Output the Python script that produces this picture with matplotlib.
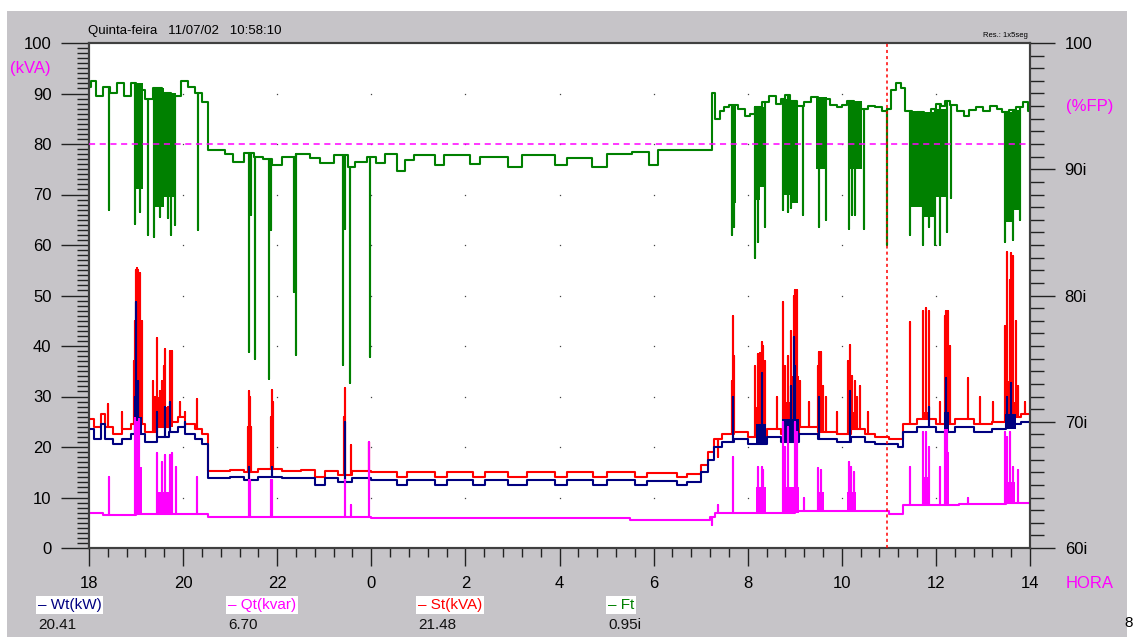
import matplotlib
matplotlib.use("Agg")
import matplotlib.pyplot as plt
import numpy as np
from matplotlib.patches import Rectangle

plt.rcParams['font.family'] = ['Liberation Sans', 'DejaVu Sans']

# time axis: hours elapsed since 18:00 (0 .. 20)
hour_ticks = [0, 2, 4, 6, 8, 10, 12, 14, 16, 18, 20]
hour_labels = ['18', '20', '22', '0', '2', '4', '6', '8', '10', '12', '14']
cursor_t = 16.97  # 10:58:10

# St (kVA) baseline steps
st_t = [0.0, 0.1, 0.25, 0.35, 0.5, 0.7, 0.9, 1.2, 1.45, 1.7, 1.9, 2.05, 2.25, 2.4, 2.53,
        3.0, 3.3, 3.6, 4.1, 4.5, 4.8, 5.02, 5.3, 5.6, 6.0, 6.55, 6.76, 7.35, 7.61, 8.16,
        8.42, 8.91, 9.31, 9.9, 10.16, 10.71, 11.01, 11.6, 11.86, 12.5, 12.71, 13.0, 13.15,
        13.28, 13.45, 13.7, 14.0, 14.4, 14.7, 15.1, 15.5, 15.9, 16.2, 16.5, 16.7, 17.0,
        17.2, 17.3, 17.6, 18.0, 18.4, 18.8, 19.2, 19.5, 19.8]
st_v = [25.5, 24, 26.5, 24, 22.5, 23.5, 24.5, 23, 24, 25, 26, 24.5, 23.5, 22.5, 15.2,
        15.5, 15.0, 15.6, 15.3, 15.5, 14.0, 15.2, 14.5, 15.3, 15.0, 14.0, 15.0, 14.0, 15.0, 14.0,
        15.0, 14.0, 15.0, 14.0, 15.0, 14.0, 15.0, 14.0, 14.8, 14.0, 14.6, 16.5, 19.0,
        21.5, 22.5, 23.0, 22.0, 23.5, 22.5, 24.0, 23.0, 22.5, 23.5, 22.5, 22.0, 21.5,
        21.5, 24.5, 25.5, 24.5, 25.5, 24.5, 25.0, 26.0, 26.5]
st_spk = [(0.40, 28.5), (0.70, 27), (0.96, 37), (0.98, 45), (1.00, 55), (1.02, 55.5), (1.04, 55),
          (1.06, 54), (1.08, 54.5), (1.13, 45), (1.36, 33), (1.40, 30), (1.45, 41.5), (1.50, 31),
          (1.55, 33), (1.60, 36), (1.62, 39.5), (1.68, 28), (1.72, 39), (1.74, 38.5), (1.76, 39),
          (1.93, 29), (2.04, 27), (2.30, 29.5), (3.38, 24), (3.40, 31), (3.42, 30), (3.44, 24),
          (3.87, 26), (3.89, 31.3), (3.91, 29), (5.42, 26), (5.44, 31.7), (5.57, 20.4), (5.95, 21),
          (13.37, 18), (13.67, 33), (13.69, 46), (13.71, 38), (14.16, 36), (14.22, 38.5),
          (14.26, 38.6), (14.30, 40.8), (14.33, 40), (14.37, 37), (14.63, 30), (14.75, 48.7),
          (14.80, 36), (14.86, 38), (14.92, 43), (14.98, 50), (15.01, 51), (15.05, 51), (15.11, 33),
          (15.30, 29), (15.49, 36), (15.52, 38.8), (15.56, 38.8), (15.60, 32), (15.66, 30),
          (15.90, 27), (16.13, 37), (16.17, 40.2), (16.21, 34), (16.28, 33), (16.32, 30),
          (16.39, 32), (16.55, 27), (17.45, 44.8), (17.73, 47), (17.79, 47.5), (17.80, 36),
          (17.85, 47), (18.09, 29), (18.19, 46), (18.22, 47), (18.26, 47), (18.30, 40),
          (18.68, 33.7), (18.94, 30), (19.22, 29), (19.47, 44), (19.51, 58.6), (19.57, 53),
          (19.60, 58.5), (19.64, 57.8), (19.70, 45), (19.74, 32), (19.90, 29)]
st_burst = [(0.96, 1.13, 40), (1.45, 1.62, 30), (1.62, 1.78, 28), (13.66, 13.72, 33),
            (14.18, 14.28, 28), (14.28, 14.38, 31), (14.73, 14.90, 29), (14.90, 15.10, 34),
            (15.48, 15.62, 28), (16.12, 16.22, 30), (16.22, 16.30, 27), (17.72, 17.86, 27),
            (18.17, 18.28, 38), (19.47, 19.58, 33), (19.58, 19.70, 29)]

# Wt (kW)
wt_t = st_t
wt_v = [23.5, 21.5, 24.5, 21.5, 20.5, 21.5, 22.5, 21, 22, 23, 24, 22.5, 21.5, 20.5, 13.8,
        14.0, 13.5, 14.0, 13.8, 13.9, 12.5, 13.8, 13.0, 13.8, 13.5, 12.5, 13.5, 12.5, 13.5, 12.5,
        13.5, 12.5, 13.5, 12.5, 13.5, 12.5, 13.5, 12.5, 13.3, 12.5, 13.0, 15.0, 17.5,
        20.0, 21.0, 21.5, 20.5, 22.0, 21.0, 22.5, 21.5, 21.0, 22.0, 21.0, 20.5, 20.5,
        20.0, 23.0, 24.0, 23.0, 24.0, 23.0, 23.5, 24.5, 25.0]
wt_spk = [(0.98, 30), (1.00, 48.7), (1.04, 33), (1.45, 27), (1.62, 28), (1.72, 29), (2.04, 25),
          (3.40, 16), (3.89, 16), (5.44, 25), (13.69, 30), (14.30, 34.6), (14.92, 32), (14.98, 41.8),
          (15.01, 36), (15.52, 30), (16.17, 31), (17.85, 28), (18.22, 33.7), (19.51, 30), (19.60, 32.7)]
wt_burst = [(0.96, 1.13, 26), (14.18, 14.38, 24.5), (14.73, 15.10, 25.5), (18.17, 18.28, 27),
            (19.47, 19.70, 26.5)]

# Qt (kvar)
qt_t = [0.0, 0.3, 1.0, 2.53, 6.0, 9.0, 11.5, 13.2, 13.3, 15.0, 17.0, 17.3, 18.5, 19.5]
qt_v = [7.0, 6.5, 6.8, 6.2, 6.0, 6.0, 5.6, 6.2, 7.0, 7.3, 6.8, 8.5, 8.8, 9.0]
qt_spk = [(0.43, 14), (0.98, 25.7), (1.02, 25), (1.06, 25.5), (1.45, 18.8), (1.55, 17), (1.62, 18.5),
          (1.72, 18.5), (1.76, 18.8), (1.85, 16), (2.30, 14), (3.40, 13.5), (3.42, 13.5),
          (3.87, 13.5), (3.89, 13.5), (5.44, 13.5), (5.57, 8.5), (5.95, 21), (13.24, 4.5),
          (13.37, 8.5), (13.69, 18), (14.22, 16), (14.30, 16), (14.33, 15.5), (14.75, 25),
          (14.80, 20), (14.86, 24), (15.01, 25), (15.05, 23), (15.20, 10), (15.49, 15.8),
          (15.56, 15.5), (16.15, 17), (16.20, 16), (16.26, 15), (17.45, 16), (17.73, 23),
          (17.79, 23), (17.85, 20), (18.09, 16), (18.19, 23.4), (18.24, 23.4), (18.68, 10),
          (19.47, 23), (19.51, 22), (19.57, 23), (19.64, 16), (19.74, 15.5)]
qt_burst = [(0.96, 1.13, 16), (1.45, 1.78, 11), (14.18, 14.38, 12), (14.73, 15.10, 12),
            (15.48, 15.62, 11), (16.12, 16.30, 11), (17.73, 17.87, 14), (18.17, 18.28, 19),
            (19.47, 19.68, 13)]

# Ft (%FP, right axis)
ft_t = [0.0, 0.05, 0.15, 0.3, 0.45, 0.6, 0.75, 0.9, 1.0, 1.2, 1.35, 1.55, 1.75, 1.95, 2.1, 2.25,
        2.4, 2.53, 2.9, 3.05, 3.3, 3.5, 3.7, 3.9, 4.1, 4.4, 4.7, 4.9, 5.2, 5.5, 5.65, 5.9, 6.1,
        6.3, 6.55, 6.72, 6.9, 7.35, 7.55, 8.1, 8.3, 8.9, 9.2, 9.9, 10.15, 10.7, 11.0, 11.55,
        11.9, 12.1, 12.95, 13.24, 13.3, 13.42, 13.5, 13.6, 13.8, 13.95, 14.05, 14.15, 14.3,
        14.45, 14.6, 14.7, 14.8, 14.9, 15.05, 15.2, 15.35, 15.5, 15.6, 15.75, 15.9, 16.0, 16.1,
        16.25, 16.4, 16.55, 16.7, 16.85, 16.96, 17.05, 17.15, 17.25, 17.35, 17.5, 17.6, 17.75,
        17.9, 18.0, 18.1, 18.2, 18.3, 18.45, 18.6, 18.7, 18.85, 19.0, 19.15, 19.3, 19.4, 19.55,
        19.7, 19.85, 19.95]
ft_v = [96.5, 97.0, 95.8, 96.5, 96.0, 96.8, 95.8, 96.8, 96.3, 95.6, 96.4, 96.0, 95.8, 97.0, 96.5,
        96.0, 95.3, 91.5, 91.2, 90.6, 91.3, 91.0, 90.8, 90.3, 91.0, 91.2, 90.9, 90.5, 91.1, 90.2,
        90.6, 91.0, 90.5, 91.2, 89.9, 90.7, 91.1, 90.3, 91.1, 90.4, 91.0, 90.2, 91.1, 90.3, 90.9,
        90.2, 91.2, 91.4, 90.3, 91.5, 91.5, 96.0, 94.0, 94.6, 94.9, 95.1, 94.8, 94.2, 94.4,
        94.9, 95.3, 95.8, 95.2, 95.6, 95.9, 95.4, 95.0, 95.3, 95.7, 95.3, 95.6, 95.1, 94.9,
        95.1, 95.4, 95.2, 94.8, 95.0, 94.9, 94.6, 94.8, 96.3, 96.8, 96.4, 94.6, 94.2, 94.5,
        94.3, 94.8, 95.2, 95.0, 95.4, 95.1, 94.6, 94.2, 94.7, 94.9, 94.6, 95.0, 94.8, 94.5,
        94.7, 94.9, 95.3, 94.6]
ft_spk = [(0.43, 86.8), (0.98, 85.7), (1.08, 86.6), (1.25, 84.8), (1.38, 84.6), (1.51, 86.2),
          (1.68, 86.1), (1.74, 84.8), (1.83, 85.6), (2.32, 85.2), (3.40, 75.5), (3.44, 86.4),
          (3.53, 75.0), (3.83, 73.4), (3.87, 85.2), (4.36, 80.3), (4.40, 75.3), (5.40, 74.5),
          (5.44, 85.3), (5.55, 73.1), (5.97, 75.1), (13.67, 84.8), (13.71, 85.4), (14.16, 83.0),
          (14.22, 84.2), (14.37, 85.4), (14.75, 86.8), (14.86, 86.6), (14.92, 86.9), (15.18, 86.4),
          (15.52, 85.4), (15.66, 86.0), (16.15, 85.3), (16.22, 86.4), (16.28, 86.4), (16.47, 85.3),
          (16.96, 84.0), (17.45, 84.8), (17.73, 84.0), (17.85, 85.4), (17.98, 84.0), (18.09, 84.0),
          (18.24, 85.0), (18.32, 87.7), (19.47, 84.2), (19.64, 84.4), (19.79, 86.0)]
ft_burst = [(0.96, 1.15, 88.4), (1.36, 1.60, 87.0), (1.60, 1.85, 87.8), (3.38, 3.46, 86.4),
            (3.85, 3.90, 85.2), (5.42, 5.47, 85.3), (13.65, 13.75, 87.3), (14.16, 14.26, 87.6),
            (14.26, 14.39, 88.6), (14.73, 14.90, 88.0), (14.90, 15.07, 87.3), (15.45, 15.69, 90.0),
            (16.13, 16.43, 90.0), (17.45, 17.70, 87.0), (17.70, 17.95, 86.2), (17.95, 18.24, 87.8),
            (19.47, 19.62, 85.8), (19.62, 19.79, 86.8)]

# legend readings at cursor
leg_names = ['Wt(kW)', 'Qt(kvar)', 'St(kVA)', 'Ft']
leg_values = ['20.41', '6.70', '21.48', '0.95i']

RED, NAVY, MAG, GREEN = '#FF0000', '#000080', '#FF00FF', '#008000'
BG = '#C6C4C8'


def trace(bt, bv, spikes):
    ev = sorted([(t, 0, v) for t, v in zip(bt, bv)] + [(t, 1, p) for t, p in spikes])
    xs, ys = [0.0], [bv[0]]
    cur = bv[0]
    for t, kind, v in ev:
        if kind == 0:
            xs += [t, t]
            ys += [cur, v]
            cur = v
        else:
            xs += [t, t, t]
            ys += [cur, v, cur]
    xs.append(20.0)
    ys.append(cur)
    return xs, ys


def base_at(bt, bv, t):
    i = np.searchsorted(bt, t, side='right') - 1
    return bv[max(i, 0)]


def draw(a, bt, bv, spikes, bursts, color, z):
    for t0, t1, lev in bursts:
        b = base_at(bt, bv, t0)
        a.fill_between([t0, t1], [b, b], [lev, lev], color=color, lw=0, zorder=z)
    xs, ys = trace(bt, bv, spikes)
    a.plot(xs, ys, color=color, lw=1.5, zorder=z + 0.1)


fig = plt.figure(figsize=(11.33, 6.37), dpi=100, facecolor='white')
fig.patches.append(Rectangle((7 / 1133, 0), 1120 / 1133, 626 / 637, transform=fig.transFigure,
                             facecolor=BG, edgecolor='none', zorder=-10))

L, R, T, B = 89, 1030, 43, 548
ax = fig.add_axes([L / 1133, 1 - B / 637, (R - L) / 1133, (B - T) / 637])
ax.set_facecolor('white')
ax.set_xlim(0, 20)
ax.set_ylim(0, 100)

draw(ax, st_t, st_v, st_spk, st_burst, RED, 2)
draw(ax, wt_t, wt_v, wt_spk, wt_burst, NAVY, 3)
draw(ax, qt_t, qt_v, qt_spk, qt_burst, MAG, 4)

# dotted grid
gx, gy = np.meshgrid(hour_ticks[1:-1], np.arange(10, 100, 10))
ax.plot(gx.ravel(), gy.ravel(), ls='none', marker='s', ms=0.9, mew=0, color='#444444', zorder=1)

ax2 = ax.twinx()
ax2.set_ylim(60, 100)
draw(ax2, ft_t, ft_v, ft_spk, ft_burst, GREEN, 2)
ax2.axhline(92, color=MAG, ls=(0, (4, 3)), lw=1.1, zorder=5)
ax2.axvline(cursor_t, color=RED, ls=(0, (2, 2)), lw=1.1, zorder=5)

for a in (ax, ax2):
    for s in a.spines.values():
        s.set_color('#404040')
        s.set_linewidth(1.5)

ax.set_xticks(hour_ticks)
ax.set_xticklabels(hour_labels)
ax.set_xticks(np.arange(0, 20.01, 0.4), minor=True)
ax.set_yticks(np.arange(0, 101, 10))
ax.set_yticks(np.arange(0, 101, 1), minor=True)
ax.tick_params(axis='x', which='major', direction='out', length=13, width=1, pad=7,
               labelsize=12, color='#222222')
ax.tick_params(axis='x', which='minor', direction='out', length=6.5, width=1, color='#222222')
ax.tick_params(axis='y', which='major', direction='out', length=20, width=1, pad=7,
               labelsize=12, color='#222222')
ax.tick_params(axis='y', which='minor', direction='out', length=9, width=1, color='#222222')

ax2.set_yticks([60, 70, 80, 90, 100])
ax2.set_yticklabels(['60i', '70i', '80i', '90i', '100'])
ax2.set_yticks(np.arange(60, 101, 1), minor=True)
ax2.tick_params(axis='y', which='major', direction='out', length=18, width=1, pad=7,
                labelsize=12, color='#222222')
ax2.tick_params(axis='y', which='minor', direction='out', length=10, width=1, color='#222222')

# texts
def px(x, y):
    return x / 1133, 1 - y / 637

fig.text(*px(88, 34), 'Quinta-feira   11/07/02   10:58:10', fontsize=9.5, va='baseline')
fig.text(*px(1028, 37), 'Res.: 1x5seg', fontsize=5.5, ha='right', va='baseline')
fig.text(*px(51, 69), '(kVA)', fontsize=12, color=MAG, ha='right', va='center')
fig.text(*px(1066, 107), '(%FP)', fontsize=12, color=MAG, ha='left', va='center')
fig.text(*px(1066, 584), 'HORA', fontsize=12, color=MAG, ha='left', va='center')
fig.text(*px(1124, 623), '8', fontsize=11, ha='left', va='center')

leg_x = [38, 228, 418, 608]
leg_col = [NAVY, MAG, RED, GREEN]
for x0, name, val, c in zip(leg_x, leg_names, leg_values, leg_col):
    fig.text(*px(x0, 605), '\u2013 ' + name, fontsize=11, color=c, va='center',
             bbox=dict(facecolor='white', edgecolor='none', pad=1.2))
    fig.text(*px(x0, 625), val, fontsize=11, color='#111111', va='center')

fig.savefig('out.png', dpi=100, facecolor=fig.get_facecolor())
